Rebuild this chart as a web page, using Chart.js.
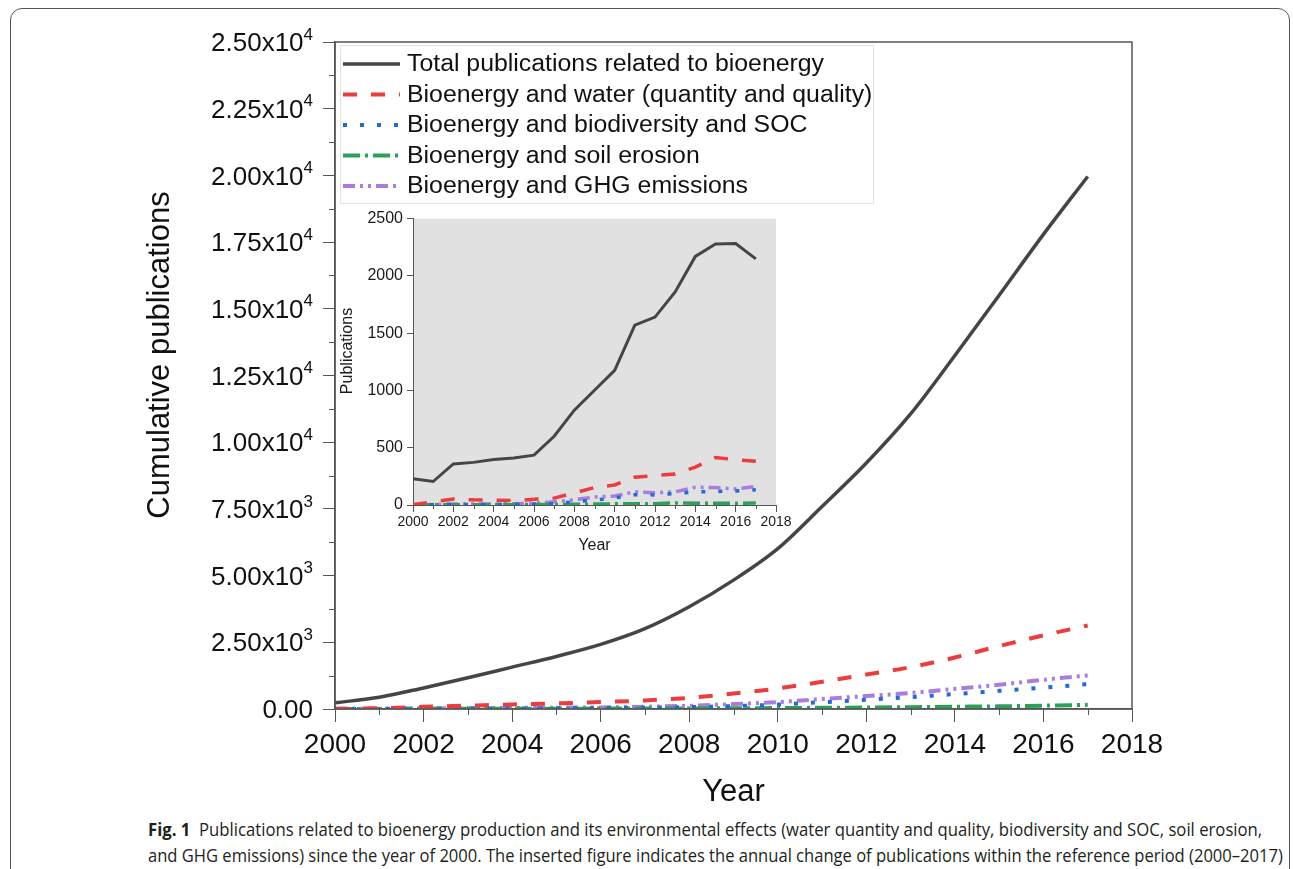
<!DOCTYPE html>
<html>
<head>
<meta charset="utf-8">
<title>Fig. 1 bioenergy publications</title>
<script src="https://cdn.jsdelivr.net/npm/chart.js@4.4.0/dist/chart.umd.min.js"></script>
<style>
  html, body { margin: 0; padding: 0; background: #fff; }
  body { width: 1293px; height: 869px; position: relative; overflow: hidden; }
  #frame { position: absolute; left: 10px; top: 8px; width: 1280px; height: 900px; border: 1.5px solid #555; border-radius: 12px; box-sizing: border-box; }
  #main { position: absolute; left: 0; top: 0; }
  #inset { position: absolute; left: 340px; top: 205px; }
  #caption { position: absolute; left: 148px; top: 816px; font-family: "Open Sans", sans-serif; font-size: 18px; line-height: 26px; color: #231f20; }
  #caption .line { display: block; white-space: nowrap; }
  #caption .line span.fit { display: inline-block; transform-origin: 0 0; }
  #caption b { font-weight: 700; }
</style>
</head>
<body>
<div id="frame"></div>
<canvas id="main" width="1293" height="810"></canvas>
<canvas id="inset" width="460" height="360"></canvas>
<div id="caption">
  <div class="line"><span class="fit" data-w="1114"><b>Fig. 1</b>&nbsp; Publications related to bioenergy production and its environmental effects (water quantity and quality, biodiversity and SOC, soil erosion,</span></div>
  <div class="line"><span class="fit" data-w="1135">and GHG emissions) since the year of 2000. The inserted figure indicates the annual change of publications within the reference period (2000–2017)</span></div>
</div>
<script>
// --- DATA ---
const years = [2000, 2001, 2002, 2003, 2004, 2005, 2006, 2007, 2008, 2009, 2010, 2011, 2012, 2013, 2014, 2015, 2016, 2017];
const seriesNames = [
  'Total publications related to bioenergy',
  'Bioenergy and water (quantity and quality)',
  'Bioenergy and biodiversity and SOC',
  'Bioenergy and soil erosion',
  'Bioenergy and GHG emissions'
];

// main plot: cumulative publications
const cumTotal   = [230, 440, 790, 1170, 1570, 1970, 2420, 3010, 3830, 4830, 6010, 7590, 9220, 11060, 13250, 15510, 17790, 19960];
const cumWater   = [5, 30, 80, 125, 170, 210, 260, 320, 420, 580, 770, 1020, 1290, 1570, 1930, 2360, 2760, 3130];
const cumBiodiv  = [3, 6, 10, 15, 20, 25, 32, 45, 70, 110, 165, 255, 345, 445, 560, 680, 800, 930];
const cumErosion = [2, 4, 6, 8, 10, 12, 15, 18, 22, 28, 35, 45, 55, 70, 85, 100, 125, 155];
const cumGhg     = [5, 10, 20, 30, 40, 50, 60, 85, 120, 185, 260, 375, 485, 600, 755, 910, 1095, 1260];

// inset: annual publications
const annTotal   = [229, 205, 358, 372, 398, 410, 435, 600, 828, 1002, 1175, 1570, 1640, 1860, 2170, 2278, 2283, 2148];
const annWater   = [5, 28, 52, 45, 42, 38, 50, 60, 105, 152, 175, 243, 257, 270, 330, 415, 395, 382];
const annBiodiv  = [2, 3, 4, 5, 5, 6, 8, 12, 28, 42, 62, 90, 88, 100, 114, 118, 122, 133];
const annErosion = [1, 2, 2, 2, 3, 3, 4, 5, 6, 8, 10, 12, 12, 18, 15, 15, 14, 18];
const annGhg     = [3, 5, 8, 10, 8, 12, 15, 28, 45, 70, 78, 115, 108, 115, 155, 152, 140, 162];

// tick labels
const xTickYears  = [2000, 2002, 2004, 2006, 2008, 2010, 2012, 2014, 2016, 2018];
const xMinorYears = [2001, 2003, 2005, 2007, 2009, 2011, 2013, 2015, 2017];
const mainYTicks  = [0, 2500, 5000, 7500, 10000, 12500, 15000, 17500, 20000, 22500, 25000];
const mainYMinor  = [1250, 3750, 6250, 8750, 11250, 13750, 16250, 18750, 21250, 23750];
const insetYTicks = [0, 500, 1000, 1500, 2000, 2500];

// --- STYLES ---
const lineColors = ['#454545', '#ec3c3c', '#1f6bd9', '#2ca05a', '#ab7ce0'];
const lineDashes = [[], [14, 14], [4, 13], [17, 5, 3, 5], [12, 5, 3, 5, 3, 5]];
const FONT = '"Liberation Sans", Arial, sans-serif';
const AXIS = '#555';

function toPoints(values) {
  return years.map((yr, i) => ({ x: yr, y: values[i] }));
}

function makeDatasets(seriesList, widths, smooth) {
  return seriesList.map((values, i) => ({
    label: seriesNames[i],
    data: toPoints(values),
    borderColor: lineColors[i],
    borderDash: lineDashes[i],
    borderWidth: widths[i],
    pointRadius: 0,
    cubicInterpolationMode: smooth ? 'monotone' : 'default',
    tension: 0,
    fill: false
  }));
}

// --- PLUGINS ---
function drawMinorTicks(chart, xs, ys, len) {
  const { ctx, scales, chartArea } = chart;
  ctx.save();
  ctx.strokeStyle = AXIS;
  ctx.lineWidth = 1;
  ctx.beginPath();
  xs.forEach(v => {
    const px = Math.round(scales.x.getPixelForValue(v)) + 0.5;
    ctx.moveTo(px, chartArea.bottom);
    ctx.lineTo(px, chartArea.bottom + len);
  });
  ys.forEach(v => {
    const py = Math.round(scales.y.getPixelForValue(v)) + 0.5;
    ctx.moveTo(chartArea.left, py);
    ctx.lineTo(chartArea.left - len, py);
  });
  ctx.stroke();
  ctx.restore();
}

const mainDecor = {
  id: 'mainDecor',
  afterDatasetsDraw(chart) {
    const { ctx, chartArea, scales } = chart;
    ctx.save();

    // box around the plot
    ctx.strokeStyle = AXIS;
    ctx.lineWidth = 1.5;
    ctx.strokeRect(chartArea.left, chartArea.top, chartArea.right - chartArea.left, chartArea.bottom - chartArea.top);
    drawMinorTicks(chart, xMinorYears, mainYMinor, 6);

    // y labels like 2.50x10^4
    ctx.fillStyle = '#111';
    ctx.textBaseline = 'middle';
    ctx.textAlign = 'right';
    const xRight = chartArea.left - 22;
    mainYTicks.forEach(v => {
      const py = scales.y.getPixelForValue(v) + 2;
      if (v === 0) {
        ctx.font = '26px ' + FONT;
        ctx.fillText('0.00', xRight, py);
        return;
      }
      const exp = Math.floor(Math.log10(v) + 1e-9);
      const mant = (v / Math.pow(10, exp)).toFixed(2) + 'x10';
      ctx.font = '17px ' + FONT;
      const supW = ctx.measureText(String(exp)).width;
      ctx.fillText(String(exp), xRight, py - 9);
      ctx.font = '26px ' + FONT;
      ctx.fillText(mant, xRight - supW, py);
    });

    // legend
    const x0 = chartArea.left + 5, y0 = chartArea.top + 3;
    ctx.fillStyle = '#fff';
    ctx.fillRect(x0, y0, 533, 158);
    ctx.strokeStyle = '#e2e2e2';
    ctx.lineWidth = 1;
    ctx.strokeRect(x0 + 0.5, y0 + 0.5, 533, 158);
    ctx.textAlign = 'left';
    ctx.font = '23px ' + FONT;
    chart.data.datasets.forEach((ds, i) => {
      const ly = y0 + 19 + i * 30.5;
      ctx.beginPath();
      ctx.setLineDash(ds.borderDash);
      ctx.strokeStyle = ds.borderColor;
      ctx.lineWidth = ds.borderWidth;
      ctx.moveTo(x0 + 3, ly);
      ctx.lineTo(x0 + 60, ly);
      ctx.stroke();
      ctx.setLineDash([]);
      ctx.fillStyle = '#111';
      // the original lettering is a little wider than Liberation Sans
      ctx.save();
      ctx.translate(x0 + 67, ly + 1);
      ctx.scale(1.08, 1);
      ctx.fillText(ds.label, 0, 0);
      ctx.restore();
    });

    // axis titles
    ctx.fillStyle = '#111';
    ctx.font = '31px ' + FONT;
    ctx.textAlign = 'center';
    ctx.fillText('Year', (chartArea.left + chartArea.right) / 2, 792);
    ctx.translate(160, 355);
    ctx.rotate(-Math.PI / 2);
    ctx.fillText('Cumulative publications', 0, 0);
    ctx.restore();
  }
};

const insetDecor = {
  id: 'insetDecor',
  beforeDraw(chart) {
    const { ctx, chartArea } = chart;
    ctx.save();
    ctx.fillStyle = '#e1e1e1';
    ctx.fillRect(chartArea.left, chartArea.top, chartArea.right - chartArea.left, chartArea.bottom - chartArea.top);
    ctx.restore();
  },
  afterDraw(chart) {
    const { ctx, chartArea } = chart;
    drawMinorTicks(chart, xMinorYears, [], 4);
    ctx.save();
    ctx.fillStyle = '#1a1a1a';
    ctx.font = '16px ' + FONT;
    ctx.textAlign = 'center';
    ctx.textBaseline = 'middle';
    ctx.fillText('Year', (chartArea.left + chartArea.right) / 2, 341);
    ctx.translate(8, 146);
    ctx.rotate(-Math.PI / 2);
    ctx.fillText('Publications', 0, 0);
    ctx.restore();
  }
};

// --- CHARTS ---
new Chart(document.getElementById('main'), {
  type: 'line',
  data: { datasets: makeDatasets([cumTotal, cumWater, cumBiodiv, cumErosion, cumGhg], [3.5, 4, 4, 4, 4], true) },
  options: {
    responsive: false,
    animation: false,
    layout: { padding: { left: 0, top: 42, right: 161, bottom: 0 } },
    plugins: { legend: { display: false }, tooltip: { enabled: false } },
    scales: {
      x: {
        type: 'linear', min: 2000, max: 2018,
        afterBuildTicks: s => { s.ticks = xTickYears.map(v => ({ value: v })); },
        afterFit: s => { s.height = 101; },
        ticks: { color: '#111', font: { family: FONT, size: 28 }, padding: 6, callback: v => String(v), maxRotation: 0 },
        grid: { drawOnChartArea: false, drawTicks: true, tickLength: 13, color: AXIS },
        border: { color: AXIS, width: 1.5 }
      },
      y: {
        min: 0, max: 25000,
        afterBuildTicks: s => { s.ticks = mainYTicks.map(v => ({ value: v })); },
        afterFit: s => { s.width = 335; },
        ticks: { display: false },
        grid: { drawOnChartArea: false, drawTicks: true, tickLength: 12, color: AXIS },
        border: { color: AXIS, width: 1.5 }
      }
    }
  },
  plugins: [mainDecor]
});

new Chart(document.getElementById('inset'), {
  type: 'line',
  data: { datasets: makeDatasets([annTotal, annWater, annBiodiv, annErosion, annGhg], [3, 3.5, 3.5, 3.5, 3.5], false) },
  options: {
    responsive: false,
    animation: false,
    layout: { padding: { left: 0, top: 10, right: 24, bottom: 0 } },
    plugins: { legend: { display: false }, tooltip: { enabled: false } },
    scales: {
      x: {
        type: 'linear', min: 2000, max: 2018,
        afterBuildTicks: s => { s.ticks = xTickYears.map(v => ({ value: v })); },
        afterFit: s => { s.height = 60; },
        ticks: { color: '#1a1a1a', font: { family: FONT, size: 14 }, padding: 2, callback: v => String(v), maxRotation: 0 },
        grid: { drawOnChartArea: false, drawTicks: true, tickLength: 7, color: AXIS },
        border: { color: AXIS, width: 1 }
      },
      y: {
        min: 0, max: 2500,
        afterBuildTicks: s => { s.ticks = insetYTicks.map(v => ({ value: v })); },
        afterFit: s => { s.width = 73; },
        ticks: { color: '#1a1a1a', font: { family: FONT, size: 16 }, padding: 4, callback: v => String(v) },
        grid: { drawOnChartArea: false, drawTicks: true, tickLength: 6, color: AXIS },
        border: { color: AXIS, width: 1 }
      }
    }
  },
  plugins: [insetDecor]
});

// --- CAPTION: squeeze each line to the width of the condensed original ---
document.querySelectorAll('#caption span.fit').forEach(el => {
  const target = parseFloat(el.dataset.w);
  el.style.transform = 'scaleX(' + (target / el.offsetWidth) + ')';
});
</script>
</body>
</html>
